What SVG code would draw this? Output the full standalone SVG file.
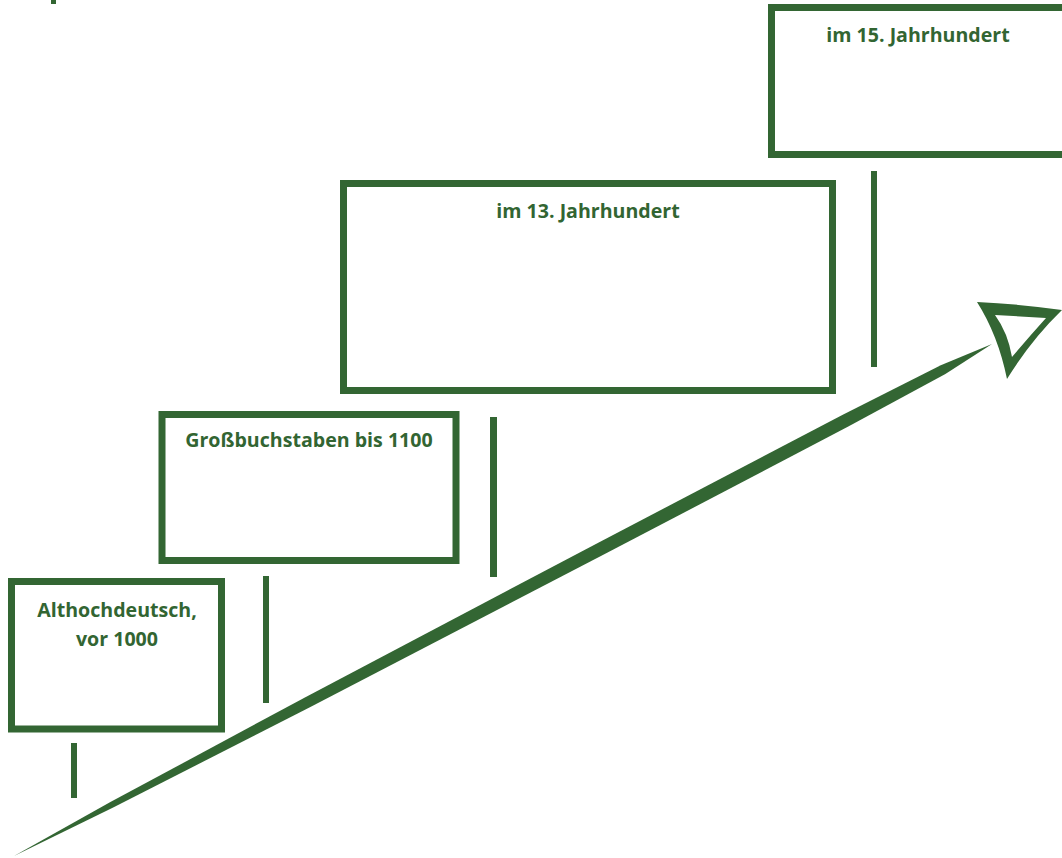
<svg xmlns="http://www.w3.org/2000/svg" width="1062" height="858" viewBox="0 0 1062 858">
<style>
.box{fill:#fff;stroke:#336633;stroke-width:7}
.tick{fill:#336633}
.lbl{font-family:"Open Sans","Liberation Sans",sans-serif;font-weight:bold;font-size:19.6px;fill:#326532;text-anchor:middle}
</style>
<rect width="1062" height="858" fill="#fff"/>
<rect x="51" y="0" width="5" height="4" fill="#336633"/>
<g id="connectors">
<rect class="tick" x="71" y="743" width="6" height="55"/>
<rect class="tick" x="263" y="576" width="6" height="127"/>
<rect class="tick" x="490" y="417" width="7" height="160"/>
<rect class="tick" x="871" y="171" width="6" height="196"/>
<path fill="#336633" d="M14,856 L110.4,802.1 L304.9,697.5 L597.8,543 L842.3,415 L940.8,365.2 L992,344 L945.4,374 L848.3,426.6 L603.8,554.6 L309.9,707.3 L113.2,807.5 Z"/>
<path fill="#336633" fill-rule="evenodd" d="M977,302 Q1020,304 1062,310 Q1031,340 1007,379 Q998,335 977,302 Z M995,315 L1046,318 Q1028,338 1012,357 Q1008,333 995,315 Z"/>
</g>
<g id="node1">
<rect class="box" x="11.5" y="581.5" width="210" height="147.5"/>
<text class="lbl" x="117" y="617">Althochdeutsch,</text>
<text class="lbl" x="117" y="646">vor 1000</text>
</g>
<g id="node2">
<rect class="box" x="162" y="414.5" width="294" height="146"/>
<text class="lbl" x="309" y="447">Großbuchstaben bis 1100</text>
</g>
<g id="node3">
<rect class="box" x="343.5" y="183.5" width="489" height="207"/>
<text class="lbl" x="588" y="218">im 13. Jahrhundert</text>
</g>
<g id="node4">
<rect class="box" x="771.5" y="7.5" width="300" height="147"/>
<text class="lbl" x="918" y="42">im 15. Jahrhundert</text>
</g>
</svg>
